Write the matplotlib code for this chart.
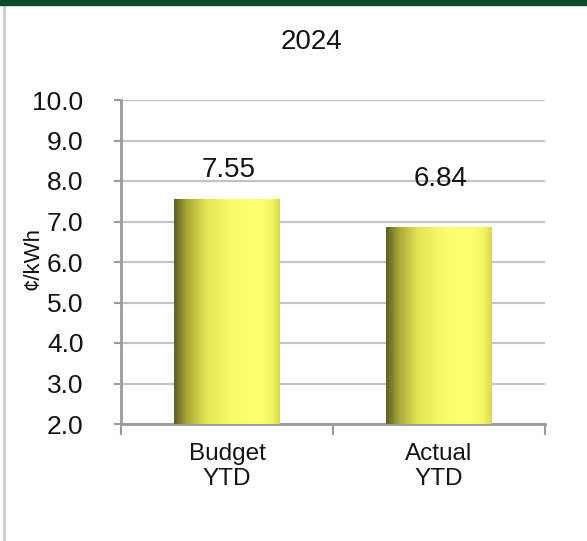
import numpy as np
import matplotlib.pyplot as plt
from matplotlib.colors import LinearSegmentedColormap
from matplotlib.lines import Line2D
from matplotlib.patches import Rectangle

plt.rcParams['font.family'] = ['Liberation Sans', 'DejaVu Sans']

# cost per kWh, year to date
categories = ['Budget\nYTD', 'Actual\nYTD']
values = [7.55, 6.84]
label_pos = [8.27, 8.05]      # where the value labels sit
year = '2024'
y_ticks = [2.0, 3.0, 4.0, 5.0, 6.0, 7.0, 8.0, 9.0, 10.0]

# cylinder-ish shading across each bar
shade = LinearSegmentedColormap.from_list('bar_shade', [
    (0.00, '#5e5e22'),
    (0.12, '#a8a836'),
    (0.30, '#e4e456'),
    (0.55, '#fbfb6c'),
    (0.80, '#ffff72'),
    (0.93, '#f4f462'),
    (1.00, '#d8d84c'),
])

fig = plt.figure(figsize=(5.87, 5.41), dpi=100)
fig.patch.set_facecolor('white')

# dark green band on top and the grey frame line on the left
fig.patches.append(Rectangle((0, 1 - 5 / 541), 1, 5 / 541, transform=fig.transFigure,
                             color='#0b4a2d', zorder=5))
fig.lines.append(Line2D([4 / 587, 4 / 587], [0, 1 - 5 / 541], transform=fig.transFigure,
                        color='#cfcfcf', lw=2))

ax = fig.add_axes([121 / 587, 117 / 541, 424 / 587, 324 / 541])
x = np.arange(len(values))
bars = ax.bar(x, values, width=0.5, bottom=0, color='none', zorder=3)

grad = np.linspace(0, 1, 256).reshape(1, -1)
for b in bars:
    x0, w = b.get_x(), b.get_width()
    ax.imshow(grad, cmap=shade, aspect='auto', zorder=3,
              extent=(x0, x0 + w, y_ticks[0], b.get_height()))
ax.set_xlim(-0.5, len(values) - 0.5)
ax.set_ylim(y_ticks[0], y_ticks[-1])

for xi, v, yp in zip(x, values, label_pos):
    ax.text(xi + 0.01, yp, f'{v:.2f}', ha='center', va='center', fontsize=20,
            color='#141414', zorder=4)

ax.set_yticks(y_ticks)
ax.set_yticklabels([f'{t:.1f}' for t in y_ticks], fontsize=19, color='#141414')
ax.yaxis.grid(True, color='#c4c4c4', lw=1.6, zorder=0)
ax.set_axisbelow(True)
ax.tick_params(axis='y', length=5, width=1.5, color='#9a9a9a', pad=22)

ax.set_xticks(x)
ax.set_xticklabels(categories, fontsize=17.5, color='#141414', linespacing=1.15)
ax.set_xticks(np.arange(-0.5, len(values)), minor=True)
ax.tick_params(axis='x', which='major', length=0, pad=14)
ax.tick_params(axis='x', which='minor', length=8, width=1.5, color='#9a9a9a')

for s in ['top', 'right']:
    ax.spines[s].set_visible(False)
for s in ['left', 'bottom']:
    ax.spines[s].set_color('#9a9a9a')
    ax.spines[s].set_linewidth(2)

ax.set_ylabel('¢/kWh', fontsize=16, color='#141414')
ax.yaxis.set_label_coords(-(121 - 43) / 424, 1 - (259 - 100) / 324,
                          transform=ax.transAxes)

fig.text(312 / 587, 1 - 42 / 541, year, ha='center', va='center', fontsize=20,
         color='#141414')

fig.savefig('out.png', dpi=100, facecolor='white')
